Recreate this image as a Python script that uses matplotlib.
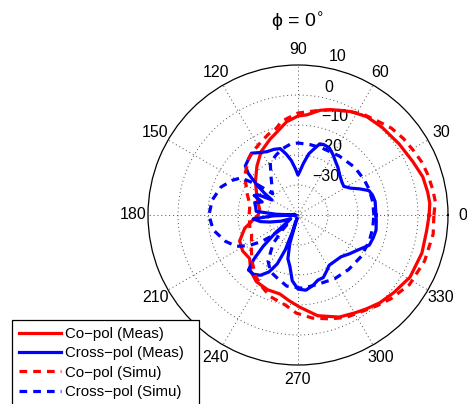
import numpy as np
import matplotlib
matplotlib.use("Agg")
import matplotlib.pyplot as plt

plt.rcParams['font.family'] = ['Liberation Sans', 'DejaVu Sans']

# Radiation pattern, phi = 0 deg cut (angle in degrees, gain in dB)
copol_meas_deg = [0, 5, 10, 17, 25, 35, 46, 55, 63, 72, 78, 85, 90, 97, 106, 110, 120,
                  130, 142, 154, 158, 172, 180, 194, 204, 213, 222, 230, 238, 248, 257,
                  264, 271, 281, 292, 300, 306, 313, 321, 331, 343, 353, 358]
copol_meas_db = [3.7, 4.1, 3.9, 3.5, 2.2, 1.2, 0.5, 0.0, -1.3, -3.1, -4.3, -6.5, -7.0,
                 -8.7, -12.0, -13.0, -15.5, -18.7, -22.0, -24.7, -25.3, -27.1, -26.7,
                 -21.7, -18.7, -18.0, -18.3, -15.5, -13.8, -13.1, -13.0, -11.3, -9.3,
                 -5.8, -3.3, -2.3, -1.3, 0.0, 1.1, 2.7, 3.2, 3.2, 3.5]

crosspol_meas_deg = [0, 10, 15, 19, 23, 27, 32, 37, 44, 50, 55, 60, 65, 70, 73, 77, 80,
                     84, 88, 90, 93, 97, 101, 105, 110, 116, 121, 127, 131, 137, 140, 142,
                     144, 147, 150, 153, 156, 160, 164, 170, 175, 178, 180, 182, 185, 190,
                     194, 200, 207, 213, 218, 222, 225, 228, 233, 238, 243, 247, 250, 251.5,
                     252.5, 254, 257, 261, 265, 270, 276, 282, 287, 292, 297, 302, 309, 316,
                     323, 330, 337, 343, 349, 355]
crosspol_meas_db = [-14.0, -13.9, -14.3, -15.0, -17.7, -20.3, -22.0, -21.7, -20.7, -19.3,
                    -18.2, -16.7, -15.3, -15.0, -15.2, -17.7, -19.3, -22.7, -25.7, -26.7,
                    -24.7, -21.7, -19.3, -17.1, -16.7, -16.5, -15.7, -14.2, -15.0, -16.0,
                    -18.3, -21.0, -23.3, -26.7, -30.0, -25.3, -24.0, -27.3, -25.0, -25.7,
                    -26.0, -32.7, -39.3, -31.7, -25.0, -27.3, -30.3, -34.0, -37.3, -36.0,
                    -30.7, -24.3, -19.3, -15.3, -15.3, -16.3, -18.7, -22.3, -27.7, -34.0,
                    -39.0, -30.0, -25.0, -22.7, -18.0, -15.3, -14.8, -16.0, -17.3, -17.5,
                    -19.0, -20.3, -20.3, -20.0, -18.5, -16.8, -14.2, -13.8, -13.5, -13.8]

copol_simu_deg = [0, 5.5, 11, 17.5, 23, 29, 36, 43, 50, 57, 65, 73, 80, 90, 100, 104, 110,
                  117, 125, 131, 143, 156, 168, 180, 195, 203, 215, 225, 235, 243, 251,
                  262, 269, 278, 287, 295, 303, 311, 318, 328, 340, 352]
copol_simu_db = [5.3, 6.0, 5.7, 5.3, 4.9, 4.1, 3.4, 2.5, 1.0, 0.0, -1.7, -3.3, -4.7,
                 -6.0, -8.3, -10.2, -11.3, -12.7, -14.0, -15.0, -17.8, -21.3, -23.6,
                 -23.7, -23.4, -23.2, -21.0, -18.3, -15.3, -13.3, -11.3, -9.7, -7.3,
                 -5.3, -3.8, -2.3, -1.5, 0.1, 1.7, 3.8, 4.9, 5.5]

crosspol_simu_deg = [0, 10, 20, 28, 40, 55, 70, 80, 90, 96, 103, 110, 118, 125, 131, 137,
                     140, 143, 147, 152, 160, 170, 180, 190, 200, 207, 212, 216, 219, 221,
                     224, 229, 237, 244, 251, 261, 274, 287, 300, 313, 327, 340, 350]
crosspol_simu_db = [-14.7, -14.7, -14.8, -15.0, -15.3, -16.0, -16.3, -16.2, -16.0, -16.2,
                    -17.3, -18.7, -20.3, -24.3, -26.7, -28.0, -29.0, -23.3, -17.3, -15.3,
                    -12.7, -11.0, -10.3, -11.3, -14.3, -17.0, -20.7, -25.0, -29.0, -35.0,
                    -32.7, -27.3, -21.7, -19.0, -18.0, -16.0, -15.5, -16.0, -15.5, -15.2,
                    -14.8, -14.7, -14.7]

series_labels = ['Co\u2212pol (Meas)', 'Cross\u2212pol (Meas)',
                 'Co\u2212pol (Simu)', 'Cross\u2212pol (Simu)']

ring_values = [-30, -20, -10, 0]
ring_labels = ['\u221230', '\u221220', '\u221210', '0', '10']
ring_label_deg = [54.8, 65.8, 69.4, 76.3, 76.0]
ring_label_r = [-24.1, -14.8, -5.0, 3.7, 14.3]
angle_ticks = list(range(0, 360, 30))

R_MIN, R_MAX = -40, 10

W, H = 467, 404
fig = plt.figure(figsize=(W / 100, H / 100), dpi=100)
ax = fig.add_axes([(298 - 150) / W, (H - 215 - 150) / H, 300 / W, 300 / H],
                  projection='polar')
ax.set_theta_zero_location('E')
ax.set_theta_direction(1)
ax.set_ylim(R_MIN, R_MAX)
ax.grid(False)
ax.set_xticks([])
ax.set_yticks([])
ax.spines['polar'].set_color('black')
ax.spines['polar'].set_linewidth(0.9)

# dotted grid: rings and spokes
grid_kw = dict(color='0.3', lw=0.7, ls=(0, (1, 3)), zorder=1)
full = np.linspace(0, 2 * np.pi, 361)
for rv in [-39] + ring_values:
    ax.plot(full, np.full_like(full, rv), **grid_kw)
for a in angle_ticks:
    t = np.deg2rad(a)
    ax.plot([t, t], [R_MIN, R_MAX], **grid_kw)

# angle labels
for a in angle_ticks:
    ax.text(np.deg2rad(a), 15, str(a), ha='center', va='center', fontsize=11.5)

# radial labels
for lab, d, r in zip(ring_labels, ring_label_deg, ring_label_r):
    ax.text(np.deg2rad(d), r, lab, ha='center', va='center', fontsize=11.5, zorder=2)


def closed(deg, db):
    t = np.deg2rad(np.r_[deg, deg[0]])
    r = np.r_[db, db[0]]
    return t, r


lw = 2.3
dash = (0, (2.4, 1.9))
series = [
    (copol_meas_deg, copol_meas_db, 'red', '-'),
    (crosspol_meas_deg, crosspol_meas_db, 'blue', '-'),
    (copol_simu_deg, copol_simu_db, 'red', dash),
    (crosspol_simu_deg, crosspol_simu_db, 'blue', dash),
]
handles = []
for (deg, db, col, ls), lab in zip(series, series_labels):
    t, r = closed(deg, db)
    h, = ax.plot(t, r, color=col, ls=ls, lw=lw, zorder=3, label=lab)
    handles.append(h)

fig.text(297 / W, 1 - 22 / H, '\u03d5 = 0$^{\\circ}$', ha='center', va='center',
         fontsize=14)

leg = fig.legend(handles=handles, labels=[s + '  ' for s in series_labels],
                 loc='upper left', bbox_to_anchor=(12 / W, 1 - 320 / H), frameon=True,
                 fancybox=False, edgecolor='black', framealpha=1, fontsize=10.8,
                 handlelength=2.8, handletextpad=0.3, borderpad=0.45,
                 labelspacing=0.36, borderaxespad=0)
leg.get_frame().set_linewidth(0.9)

fig.savefig('out.png', dpi=100)
